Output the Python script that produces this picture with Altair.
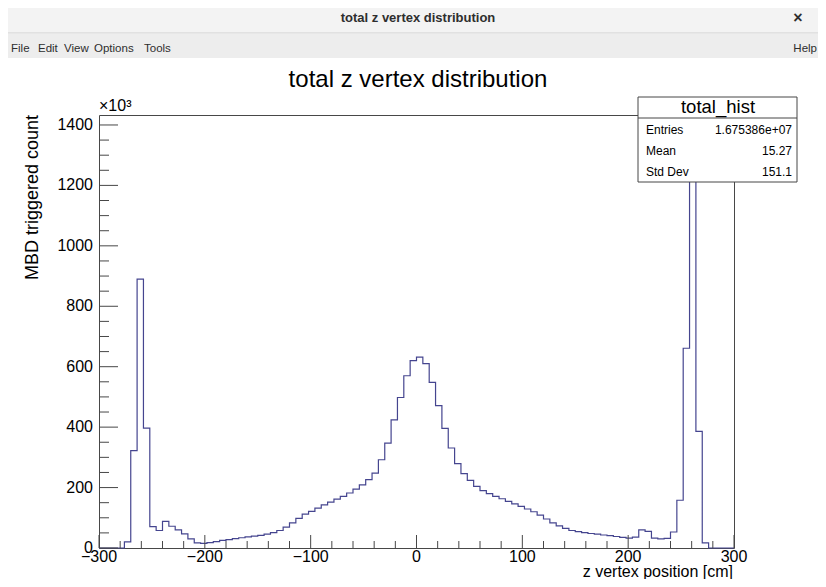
import altair as alt
import pandas as pd

# ---------------- data ----------------
bin_low = -300
bin_width = 6
# counts per 6 cm bin, in units of 10^3, bins from -300 to 300
counts_k = [
    0, 0, 0, 0, 20, 322, 890, 397, 71, 58,
    88, 72, 60, 47, 30, 17, 15, 18, 21, 25,
    28, 31, 34, 37, 39, 42, 46, 51, 58, 69,
    83, 98, 112, 121, 132, 143, 152, 162, 171, 182,
    195, 209, 226, 248, 292, 347, 424, 498, 570, 620,
    632, 610, 548, 471, 396, 331, 279, 246, 224, 204,
    190, 180, 171, 163, 154, 146, 138, 129, 120, 109,
    96, 83, 73, 65, 58, 54, 51, 48, 46, 43,
    41, 38, 35, 33, 36, 60, 55, 33, 30, 32,
    53, 158, 661, 1368, 386, 17, 0, 0, 0, 0,
]
x_major = [-300, -200, -100, 0, 100, 200, 300]
x_labels = ["−300", "−200", "−100", "0", "100", "200", "300"]
x_minor = [v for v in range(-300, 301, 20) if v % 100 != 0]
y_major = [0, 200, 400, 600, 800, 1000, 1200, 1400]
y_labels = ["0", "200", "400", "600", "800", "1000", "1200", "1400"]
y_minor = [v for v in range(0, 1433, 50) if v % 200 != 0]
y_max = 1433

stats_name = "total_hist"
stats_labels = ["Entries", "Mean", "Std Dev"]
stats_values = ["1.675386e+07", "15.27", "151.1"]

window_title = "total z vertex distribution"
plot_title = "total z vertex distribution"
x_title = "z vertex position [cm]"
y_title = "MBD triggered count"
exponent_label = "×10³"
menu_items = ["File", "Edit", "View", "Options", "Tools"]
menu_help = "Help"

# ---------------- build ----------------
edges = [bin_low + bin_width * i for i in range(len(counts_k) + 1)]
hist_df = pd.DataFrame({"edge": edges, "count": counts_k + [counts_k[-1]]})

FONT = "Liberation Sans"
W, H = 635, 433
FRAME = "#474747"
LINE = "#45458f"

one = pd.DataFrame({"a": [0]})
xs = alt.Scale(domain=[-300, 300], nice=False, zero=False)
ys = alt.Scale(domain=[0, y_max], nice=False, zero=False)


def rect(x, x2, y, y2, fill, stroke=None):
    kw = dict(fill=fill)
    if stroke:
        kw.update(stroke=stroke, strokeWidth=1)
    return alt.Chart(one).mark_rect(**kw).encode(
        x=alt.value(x), x2=alt.value(x2), y=alt.value(y), y2=alt.value(y2))


def hline(x, x2, y, color):
    return alt.Chart(one).mark_rule(color=color, strokeWidth=1).encode(
        x=alt.value(x), x2=alt.value(x2), y=alt.value(y))


def txt(s, x, y, size, align="left", weight="normal", color="black", angle=None,
        baseline="middle"):
    kw = dict(text=s, fontSize=size, align=align, baseline=baseline, color=color,
              font=FONT, fontWeight=weight)
    if angle is not None:
        kw["angle"] = angle
    return alt.Chart(one).mark_text(**kw).encode(x=alt.value(x), y=alt.value(y))


layers = []
# window chrome
layers.append(rect(-91, 719, -107, -82, "#f3f3f3"))
layers.append(hline(-91, 719, -82, "#cfcfcf"))
layers.append(rect(-91, 719, -81, -57, "#ededed"))
layers.append(txt(window_title, 319, -97, 13, align="center", weight="bold", color="#2e2e2e"))
layers.append(txt("×", 699, -97, 16, align="center", weight="bold", color="#2e2e2e"))
menu_x = [-88, -61, -35, -5, 45]
for name, mx in zip(menu_items, menu_x):
    layers.append(txt(name, mx, -66, 11.5, color="#2e2e2e"))
layers.append(txt(menu_help, 718, -66, 11.5, align="right", color="#2e2e2e"))

# histogram
hist = alt.Chart(hist_df).mark_line(
    interpolate="step-after", color=LINE, strokeWidth=1.2
).encode(
    x=alt.X("edge:Q", scale=xs, axis=None),
    y=alt.Y("count:Q", scale=ys, axis=None),
)
layers.append(hist)

# inward ticks (ROOT style)
layers.append(alt.Chart(pd.DataFrame({"v": y_major})).mark_rule(color=FRAME).encode(
    y=alt.Y("v:Q", scale=ys, axis=None), x=alt.value(0), x2=alt.value(19)))
layers.append(alt.Chart(pd.DataFrame({"v": y_minor})).mark_rule(color=FRAME).encode(
    y=alt.Y("v:Q", scale=ys, axis=None), x=alt.value(0), x2=alt.value(10)))
layers.append(alt.Chart(pd.DataFrame({"v": x_major})).mark_rule(color=FRAME).encode(
    x=alt.X("v:Q", scale=xs, axis=None), y=alt.value(H), y2=alt.value(H - 13)))
layers.append(alt.Chart(pd.DataFrame({"v": x_minor})).mark_rule(color=FRAME).encode(
    x=alt.X("v:Q", scale=xs, axis=None), y=alt.value(H), y2=alt.value(H - 7)))

# tick labels
layers.append(alt.Chart(pd.DataFrame({"v": x_major, "lab": x_labels})).mark_text(
    fontSize=16, font=FONT, align="center", baseline="middle", color="black").encode(
    x=alt.X("v:Q", scale=xs, axis=None), y=alt.value(H + 9), text="lab:N"))
layers.append(alt.Chart(pd.DataFrame({"v": y_major, "lab": y_labels})).mark_text(
    fontSize=16, font=FONT, align="right", baseline="middle", color="black").encode(
    y=alt.Y("v:Q", scale=ys, axis=None), x=alt.value(-6), text="lab:N"))

# texts of the pad
layers.append(txt(plot_title, 319, -35, 24, align="center"))
layers.append(txt(exponent_label, 0, -9, 16))
layers.append(txt(x_title, 634, 462, 16, align="right", baseline="alphabetic"))
layers.append(txt(y_title, -66, 0, 18, align="right", angle=270))

# stats box
layers.append(rect(539, 698, -18, 67, "white", stroke=FRAME))
layers.append(hline(539, 698, 3, FRAME))
layers.append(txt(stats_name, 619, -8, 18.5, align="center"))
for k, (lab, val) in enumerate(zip(stats_labels, stats_values)):
    yy = 15 + 21 * k
    layers.append(txt(lab, 547, yy, 12))
    layers.append(txt(val, 693, yy, 12, align="right"))

chart = alt.layer(*layers).properties(
    width=W, height=H,
    padding={"left": 91, "top": 107, "right": 84, "bottom": 31},
    autosize=alt.AutoSizeParams(type="none"),
    background="white",
).configure_view(stroke=FRAME, strokeWidth=1)

chart.save("out.html", embed_options={"renderer": "svg", "actions": False})
